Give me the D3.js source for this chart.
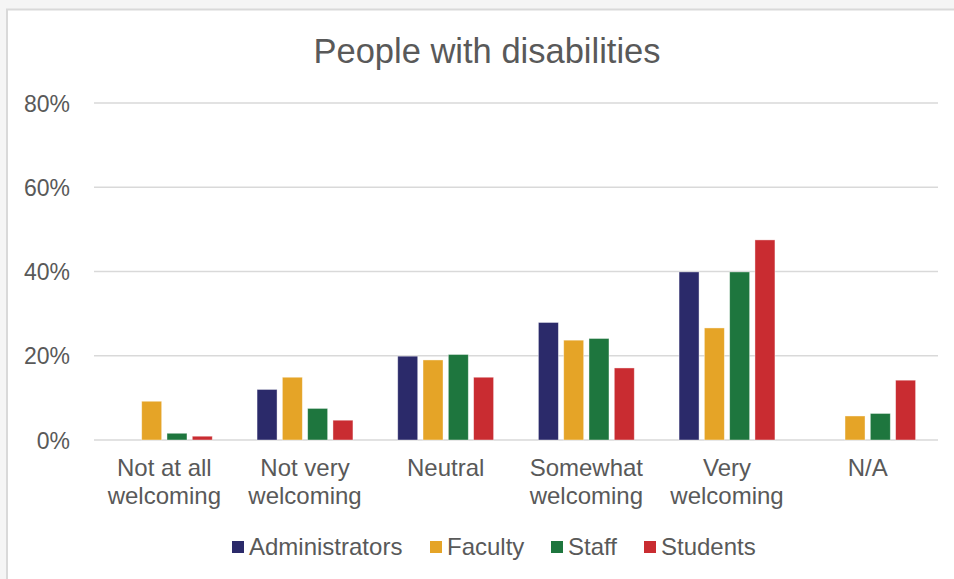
<!DOCTYPE html>
<html>
<head>
<meta charset="utf-8">
<script src="https://cdn.jsdelivr.net/npm/d3@7"></script>
<style>
  html, body { margin: 0; padding: 0; background: #f5f5f5; }
  svg { display: block; }
  text { font-family: "Liberation Sans", Arial, sans-serif; fill: #595959; }
</style>
</head>
<body>
<svg id="chart" width="954" height="579"></svg>
<script>
const categories = [["Not at all", "welcoming"], ["Not very", "welcoming"], ["Neutral"], ["Somewhat", "welcoming"], ["Very", "welcoming"], ["N/A"]];
const seriesNames = ["Administrators", "Faculty", "Staff", "Students"];
const administrators = [0, 12.0, 19.9, 27.9, 39.9, 0];
const faculty = [9.2, 14.9, 19.0, 23.7, 26.6, 5.7];
const staff = [1.6, 7.5, 20.3, 24.1, 39.9, 6.3];
const students = [0.9, 4.7, 14.9, 17.1, 47.5, 14.2];
const seriesColors = ["#2b2a6a", "#e5a427", "#1e763e", "#c92c31"];
const yTicks = [0, 20, 40, 60, 80];
const title = "People with disabilities";

const seriesValues = [administrators, faculty, staff, students];
const catKeys = categories.map(c => c.join(" "));

const svg = d3.select("#chart");
// Chart panel
svg.append("rect").attr("x", 7).attr("y", 9.5).attr("width", 980).attr("height", 620)
  .attr("fill", "#ffffff").attr("stroke", "#d9d9d9").attr("stroke-width", 2);

const plotLeft = 94, plotRight = 938, plotTop = 103, plotBottom = 440;

const y = d3.scaleLinear().domain([0, 80]).range([plotBottom, plotTop]);
const x0 = d3.scaleBand().domain(catKeys).range([plotLeft, plotRight]).padding(0);
const x1 = d3.scaleBand().domain(seriesNames).range([0, x0.bandwidth()])
  .paddingInner(0.21).paddingOuter(0.885);

// Gridlines
svg.append("g").selectAll("line").data(yTicks).join("line")
  .attr("x1", plotLeft).attr("x2", plotRight)
  .attr("y1", d => y(d)).attr("y2", d => y(d))
  .attr("stroke", "#d9d9d9").attr("stroke-width", 1.5);

// Y axis labels
const yAxis = d3.axisLeft(y).tickValues(yTicks).tickFormat(d => d + "%").tickSize(0).tickPadding(0);
const yg = svg.append("g").attr("transform", `translate(70,0)`).call(yAxis);
yg.select(".domain").remove();
yg.selectAll("text").attr("font-size", 23).attr("dy", "0.35em")
  .style("font-family", '"Liberation Sans", Arial, sans-serif').attr("fill", "#595959");

// Bars
const groups = svg.append("g").selectAll("g").data(catKeys).join("g")
  .attr("transform", d => `translate(${x0(d)},0)`);
groups.selectAll("rect")
  .data((d, i) => seriesNames.map((s, j) => ({ s, v: seriesValues[j][i], c: seriesColors[j] })).filter(e => e.v > 0))
  .join("rect")
  .attr("x", d => x1(d.s))
  .attr("width", x1.bandwidth())
  .attr("y", d => y(d.v))
  .attr("height", d => y(0) - y(d.v))
  .attr("fill", d => d.c)
  .attr("stroke", "#ffffff").attr("stroke-opacity", 0.5).attr("stroke-width", 0.8);

// X axis (ticks hidden) and two-line category labels
const xAxis = d3.axisBottom(x0).tickSize(0).tickFormat("");
const xg = svg.append("g").attr("transform", `translate(0,${plotBottom})`).call(xAxis);
xg.select(".domain").remove();
const catLabels = svg.append("g").selectAll("text").data(categories).join("text")
  .attr("x", (d, i) => x0(catKeys[i]) + x0.bandwidth() / 2)
  .attr("y", 476)
  .attr("text-anchor", "middle")
  .attr("font-size", 24);
catLabels.selectAll("tspan").data(d => d).join("tspan")
  .attr("x", function () { return d3.select(this.parentNode).attr("x"); })
  .attr("dy", (d, i) => i === 0 ? 0 : 28)
  .text(d => d);

// Title
svg.append("text").attr("x", 487).attr("y", 63).attr("text-anchor", "middle")
  .attr("font-size", 34.5).text(title);

// Legend
const legendX = [232, 430, 551, 644];
const lg = svg.append("g").selectAll("g").data(seriesNames).join("g")
  .attr("transform", (d, i) => `translate(${legendX[i]},0)`);
lg.append("rect").attr("x", 0).attr("y", 541).attr("width", 12).attr("height", 12)
  .attr("fill", (d, i) => seriesColors[i]);
lg.append("text").attr("x", 17).attr("y", 555).attr("font-size", 24).text(d => d);
</script>
</body>
</html>
